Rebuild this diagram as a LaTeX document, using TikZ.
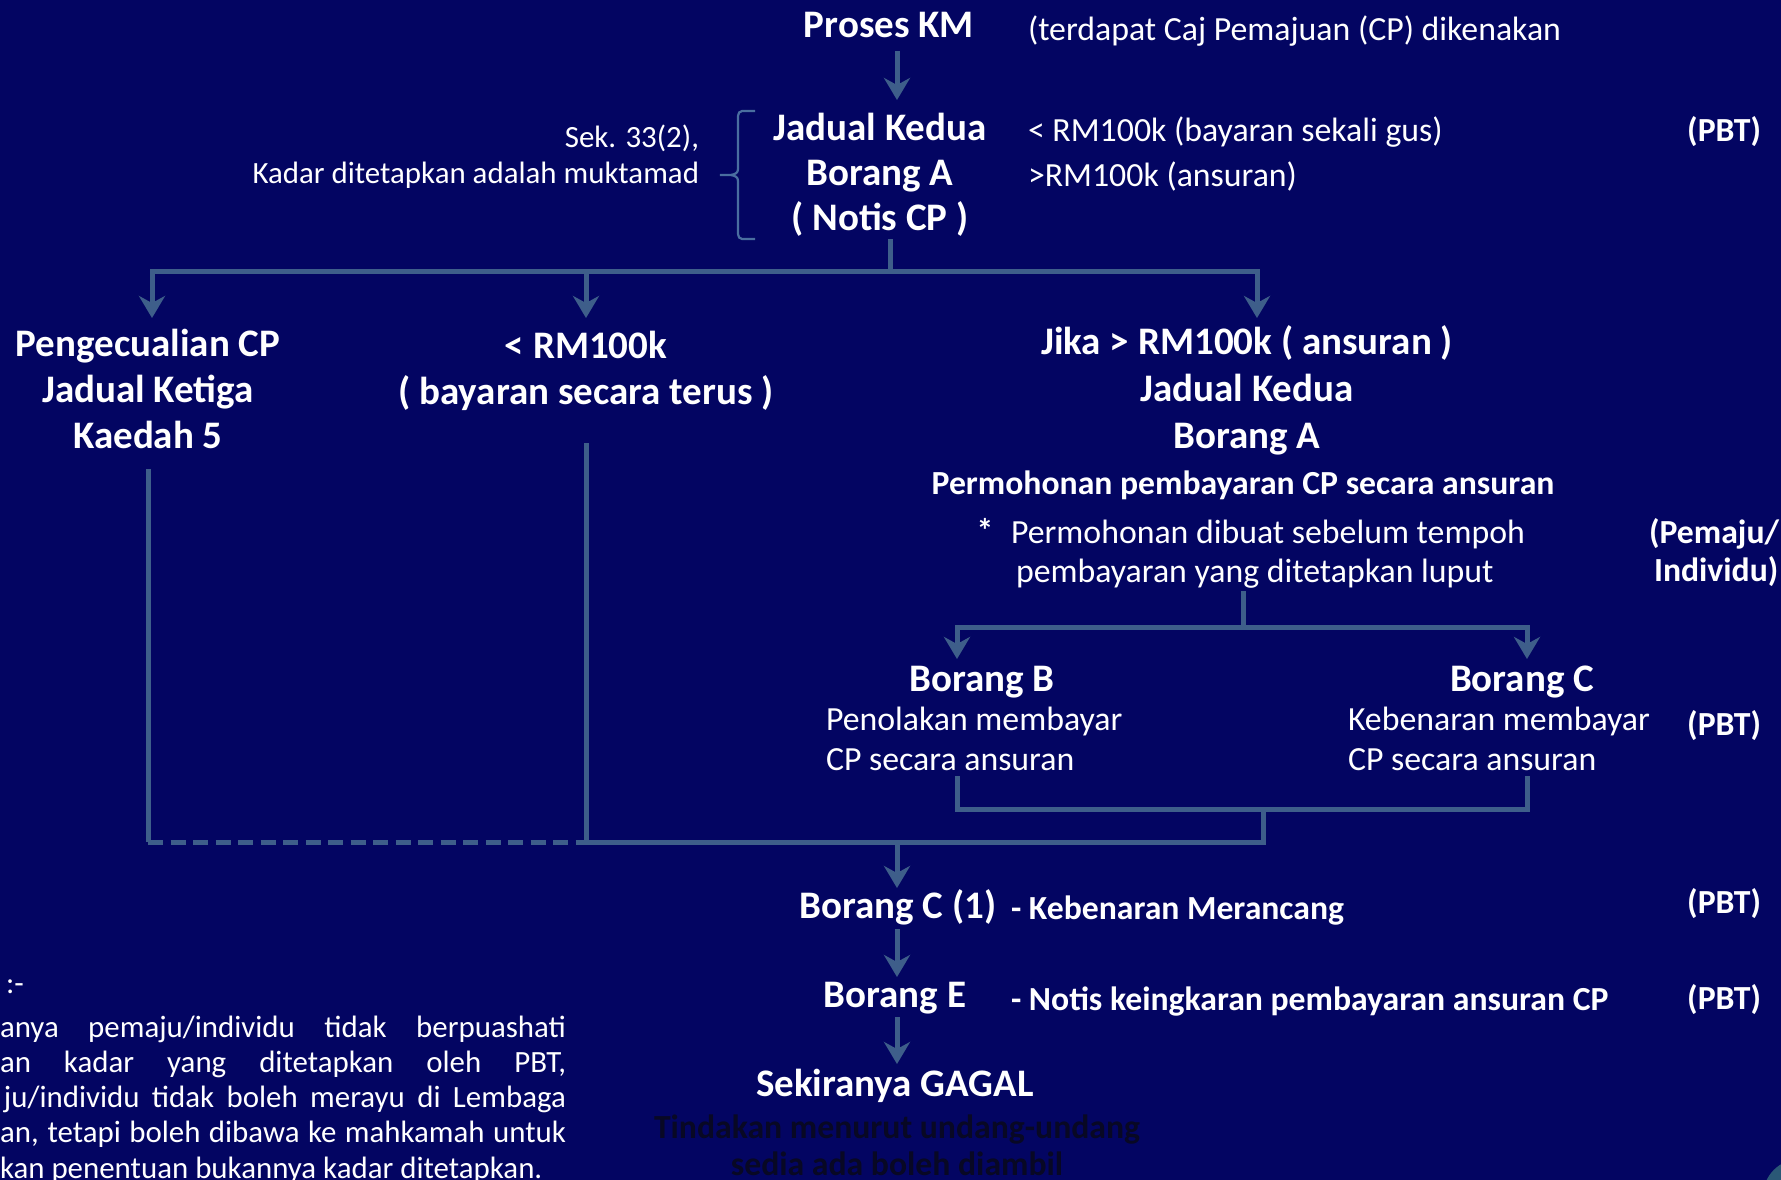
\documentclass[tikz,border=0pt]{standalone}
\usepackage{fontspec}
\setmainfont{Carlito}
\usetikzlibrary{arrows.meta}
\definecolor{bg}{RGB}{3,5,98}
\definecolor{ln}{RGB}{62,94,138}
\definecolor{br}{RGB}{74,110,160}
\definecolor{dk}{RGB}{8,8,36}
\definecolor{dotc}{RGB}{42,88,118}
\begin{document}
\begin{tikzpicture}[x=1pt,y=-1pt,
  every node/.style={inner sep=0pt, outer sep=0pt, text=white},
  big/.style={font=\fontsize{39}{46}\selectfont\bfseries, align=center},
  mid/.style={font=\fontsize{33.7}{38}\selectfont\bfseries},
  reg/.style={font=\fontsize{33.8}{40}\selectfont},
  sm/.style={font=\fontsize{30.9}{36}\selectfont},
  conn/.style={draw=ln, line width=5pt},
  arr/.style={conn, -{Stealth[length=22pt,width=26pt,inset=7pt]}},
]
\fill[bg] (0,0) rectangle (1781,1180);
\useasboundingbox (0,0) rectangle (1781,1180);
\fill[dotc] (1800,1196) circle (37pt);

% top
\node[big] (proc) at (889,25) {Proses KM};
\node[reg, anchor=west] (terdapat) at (1028,31) {(terdapat Caj Pemajuan (CP) dikenakan};
\node[big, font=\fontsize{39}{45}\selectfont\bfseries] (jadual) at (880,175) {Jadual Kedua\\Borang A\\( Notis CP )};
\node[sm, anchor=east, align=right] (sek) at (699,157) {Sek. 33(2),\\Kadar ditetapkan adalah muktamad};
\node[reg, anchor=west, align=left, font=\fontsize{33.8}{45}\selectfont] (rmA) at (1028,154) {< RM100k (bayaran sekali gus)\\>RM100k (ansuran)};
\node[mid, anchor=east] (pbt1) at (1761,132) {(PBT)};

\coordinate (a0) at (897,51);
\coordinate (a1) at (897,100);
\draw[arr] (a0) -- (a1);

% brace
\draw[br, line width=2.2pt] (755,111) -- (742,111) to[out=180,in=90] (738,116) -- (738,169)
  to[out=-90,in=0] (720,175) to[out=0,in=90] (738,181) -- (738,234) to[out=-90,in=180] (742,239) -- (755,239);

% first branching
\coordinate (t0) at (890,239);
\coordinate (t1) at (890,271);
\coordinate (hm) at (586,271);
\coordinate (al) at (152,318);
\coordinate (am) at (586,318);
\coordinate (ar) at (1257,318);
\draw[conn] (t0) -- (t1);
\draw[arr] (t1) -| (al);
\draw[arr] (t1) -| (ar);
\draw[arr] (hm) -- (am);

\node[big] (peng) at (148,389) {Pengecualian CP\\Jadual Ketiga\\Kaedah 5};
\node[big] (rm) at (586,371) {< RM100k\\( bayaran secara terus )};
\node[big, font=\fontsize{39}{47}\selectfont\bfseries] (jika) at (1247,390) {Jika > RM100k ( ansuran )\\Jadual Kedua\\Borang A};
\node[mid] (perm) at (1243,485) {Permohonan pembayaran CP secara ansuran};
\node[mid] (star) at (985,530) {*};
\node[reg, anchor=west, align=left, font=\fontsize{33.8}{38.5}\selectfont] (mohon) at (1011,554) {Permohonan dibuat sebelum tempoh\\\hspace*{5pt}pembayaran yang ditetapkan luput};
\node[mid, anchor=west, align=left] (pemaju) at (1649,553) {(Pemaju/\\\hspace*{5pt}Individu)};

% second branching
\coordinate (m1) at (1243,591);
\coordinate (m2) at (1243,627);
\coordinate (bl) at (957,659);
\coordinate (cl) at (1527,659);
\draw[conn] (m1) -- (m2);
\draw[arr] (m2) -| (bl);
\draw[arr] (m2) -| (cl);

\node[big] (borB) at (982,682) {Borang B};
\node[reg, anchor=west, align=left] (borBt) at (826,739) {Penolakan membayar\\CP secara ansuran};
\node[big] (borC) at (1522,682) {Borang C};
\node[reg, anchor=west, align=left] (borCt) at (1348,739) {Kebenaran membayar\\CP secara ansuran};
\node[mid, anchor=east] (pbt2) at (1761,726) {(PBT)};

% joining
\coordinate (jb) at (957,776);
\coordinate (jc) at (1527,776);
\coordinate (jm) at (1263,809);
\coordinate (jn) at (1263,842);
\coordinate (pb) at (148,469);
\coordinate (lc) at (148,842);
\coordinate (rb) at (586,443);
\coordinate (mc) at (586,842);
\draw[conn] (jb) |- (jc |- jm) -- (jc);
\draw[conn] (rb) -- (mc) -- (jn) -- (jm);
\draw[conn] (pb) -- (lc);
\draw[conn, dash pattern=on 15pt off 7.5pt] (lc) -- (mc);

\coordinate (d0) at (897,842);
\coordinate (d1) at (897,888);
\draw[arr] (d0) -- (d1);

\node[big] (c1) at (898,907) {Borang C (1)};
\node[mid, anchor=west] (c1t) at (1011,911) {- Kebenaran Merancang};
\node[mid, anchor=east] (pbt3) at (1761,904) {(PBT)};

\coordinate (e0) at (897,929);
\coordinate (e1) at (897,977);
\draw[arr] (e0) -- (e1);

\node[big] (bE) at (895,998) {Borang E};
\node[mid, anchor=west] (bEt) at (1011,1001) {- Notis keingkaran pembayaran ansuran CP};
\node[mid, anchor=east] (pbt4) at (1761,1000) {(PBT)};

\coordinate (f0) at (897,1017);
\coordinate (f1) at (897,1064);
\draw[arr] (f0) -- (f1);

\node[big] (gagal) at (895,1086) {Sekiranya GAGAL};
\node[text=dk, align=center, font=\fontsize{33.7}{37}\selectfont\bfseries] (tind) at (897,1145) {Tindakan menurut undang-undang\\sedia ada boleh diambil};

% left note
\node[sm, anchor=west] (nh) at (6,987) {:-};
\node[sm, anchor=east] (n1) at (566,1029) {\makebox[566pt][s]{anya pemaju/individu tidak berpuashati}};
\node[sm, anchor=east] (n2) at (566,1064) {\makebox[566pt][s]{an kadar yang ditetapkan oleh PBT,}};
\node[sm, anchor=east] (n3) at (566,1099) {\makebox[562pt][s]{ju/individu tidak boleh merayu di Lembaga}};
\node[sm, anchor=east] (n4) at (566,1134) {\makebox[566pt][s]{an, tetapi boleh dibawa ke mahkamah untuk}};
\node[sm, anchor=west] (n5) at (0,1170) {kan penentuan bukannya kadar ditetapkan.};
\end{tikzpicture}
\end{document}
